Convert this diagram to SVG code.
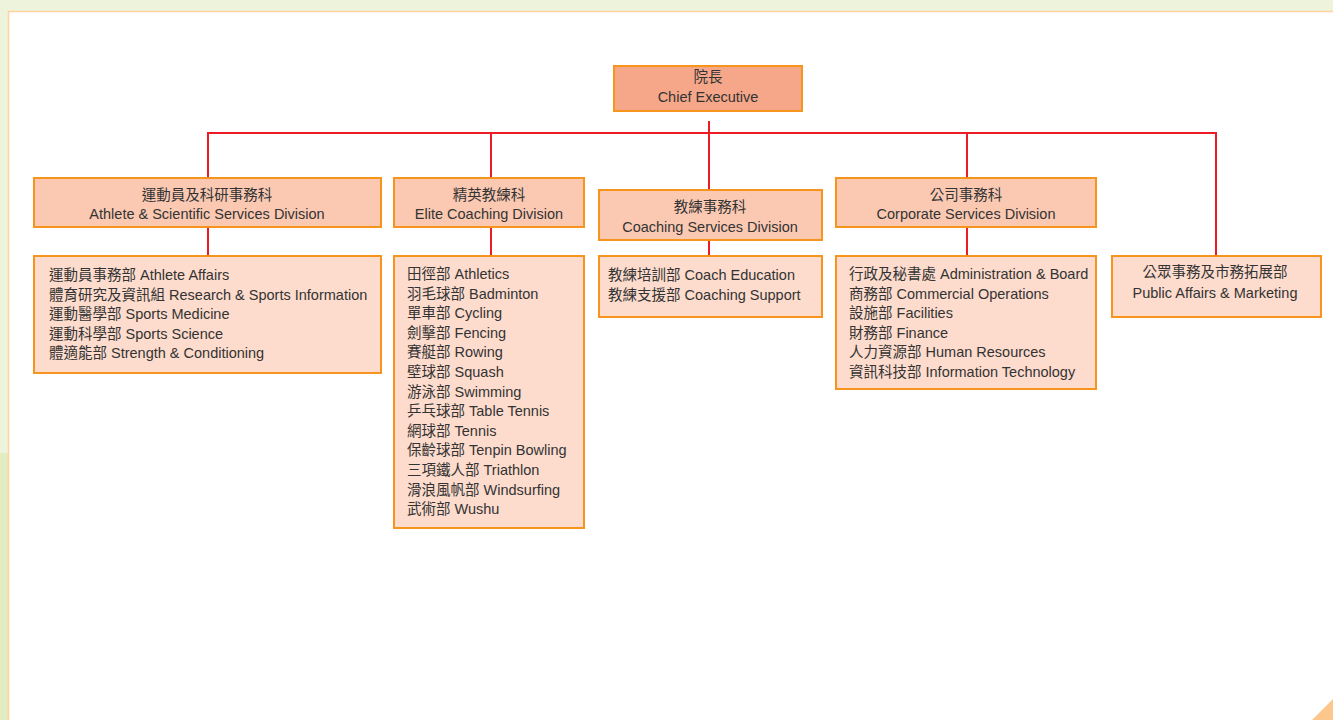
<svg xmlns="http://www.w3.org/2000/svg" width="1333" height="720" viewBox="0 0 1333 720">
<style>
text{font-family:"Liberation Sans","Noto Sans CJK TC",Arial,sans-serif;font-size:14.5px;fill:#333333}
.c{text-anchor:middle}
.box{stroke:#F7941D;stroke-width:2}
.ceo{fill:#F6A78A}
.div{fill:#FBC9B2}
.sub{fill:#FDDCCD}
.ln{stroke:#ED1C24;stroke-width:2;fill:none}
</style>
<rect x="0" y="0" width="1333" height="720" fill="#EEF3DC"/>
<rect x="0" y="453" width="9" height="267" fill="#E3EBC0"/>
<rect x="8.5" y="11.5" width="1330" height="715" fill="#FFFFFF" stroke="#FFD29E" stroke-width="1.5"/>
<polygon points="1312,720 1333,699 1333,720" fill="#FDC68A"/>
<g id="connectors">
<path class="ln" d="M709,121 V190 M208,178 V133 H1216 V256 M491,178 V133 M967,178 V133"/>
<path class="ln" d="M208,227 V256 M491,227 V256 M709,240 V256 M967,227 V256"/>
</g>
<g id="ceo">
<rect class="box ceo" x="614" y="66" width="188" height="45"/>
<text class="c" x="708" y="82">院長</text>
<text class="c" x="708" y="102">Chief Executive</text>
</g>
<g id="athlete-division">
<rect class="box div" x="34" y="178" width="347" height="49"/>
<text class="c" x="207" y="200">運動員及科研事務科</text>
<text class="c" x="207" y="219">Athlete &amp; Scientific Services Division</text>
</g>
<g id="elite-division">
<rect class="box div" x="394" y="178" width="190" height="49"/>
<text class="c" x="489" y="200">精英教練科</text>
<text class="c" x="489" y="219">Elite Coaching Division</text>
</g>
<g id="coaching-division">
<rect class="box div" x="599" y="190" width="223" height="50"/>
<text class="c" x="710" y="212">教練事務科</text>
<text class="c" x="710" y="232">Coaching Services Division</text>
</g>
<g id="corporate-division">
<rect class="box div" x="836" y="178" width="260" height="49"/>
<text class="c" x="966" y="200">公司事務科</text>
<text class="c" x="966" y="219">Corporate Services Division</text>
</g>
<g id="athlete-units">
<rect class="box sub" x="34" y="256" width="347" height="117"/>
<text x="49" y="280">運動員事務部 Athlete Affairs</text>
<text x="49" y="300">體育研究及資訊組 Research &amp; Sports Information</text>
<text x="49" y="319">運動醫學部 Sports Medicine</text>
<text x="49" y="339">運動科學部 Sports Science</text>
<text x="49" y="358">體適能部 Strength &amp; Conditioning</text>
</g>
<g id="elite-units">
<rect class="box sub" x="394" y="256" width="190" height="272"/>
<text x="407" y="279">田徑部 Athletics</text>
<text x="407" y="299">羽毛球部 Badminton</text>
<text x="407" y="318">單車部 Cycling</text>
<text x="407" y="338">劍擊部 Fencing</text>
<text x="407" y="357">賽艇部 Rowing</text>
<text x="407" y="377">壁球部 Squash</text>
<text x="407" y="397">游泳部 Swimming</text>
<text x="407" y="416">乒乓球部 Table Tennis</text>
<text x="407" y="436">網球部 Tennis</text>
<text x="407" y="455">保齡球部 Tenpin Bowling</text>
<text x="407" y="475">三項鐵人部 Triathlon</text>
<text x="407" y="495">滑浪風帆部 Windsurfing</text>
<text x="407" y="514">武術部 Wushu</text>
</g>
<g id="coaching-units">
<rect class="box sub" x="599" y="256" width="223" height="61"/>
<text x="608" y="280">教練培訓部 Coach Education</text>
<text x="608" y="300">教練支援部 Coaching Support</text>
</g>
<g id="corporate-units">
<rect class="box sub" x="836" y="256" width="260" height="133"/>
<text x="849" y="279">行政及秘書處 Administration &amp; Board</text>
<text x="849" y="299">商務部 Commercial Operations</text>
<text x="849" y="318">設施部 Facilities</text>
<text x="849" y="338">財務部 Finance</text>
<text x="849" y="357">人力資源部 Human Resources</text>
<text x="849" y="377">資訊科技部 Information Technology</text>
</g>
<g id="public-affairs">
<rect class="box sub" x="1112" y="256" width="209" height="61"/>
<text class="c" x="1215" y="277">公眾事務及市務拓展部</text>
<text class="c" x="1215" y="298">Public Affairs &amp; Marketing</text>
</g>
</svg>
